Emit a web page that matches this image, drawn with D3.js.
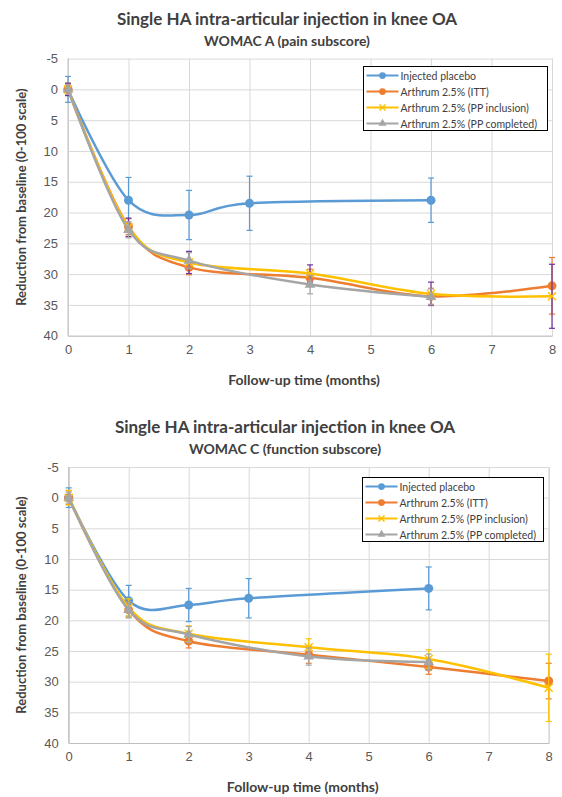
<!DOCTYPE html>
<html>
<head>
<meta charset="utf-8">
<script src="https://cdn.jsdelivr.net/npm/d3@7"></script>
<style>
  body { margin: 0; background: #fff; }
  svg { display: block; font-family: Lato, "Open Sans", sans-serif; }
  .tick text { fill: #595959; font-size: 13px; }
</style>
</head>
<body>
<svg width="562" height="797"></svg>
<script>
// ---- data ----
const placeboMonths = [0, 1, 2, 3, 6];
const arthrumMonths = [0, 1, 2, 4, 6, 8];
const completedMonths = [0, 1, 2, 4, 6];
const yTicks = [-5, 0, 5, 10, 15, 20, 25, 30, 35, 40];
const xTicks = [0, 1, 2, 3, 4, 5, 6, 7, 8];
const seriesNames = ["Injected placebo", "Arthrum 2.5% (ITT)", "Arthrum 2.5% (PP inclusion)", "Arthrum 2.5% (PP completed)"];

// WOMAC A (pain)
const painPlacebo = [0, 18, 20.4, 18.5, 18];
const painPlaceboErr = [2.1, 3.7, 4.0, 4.4, 3.6];
const painITT = [0, 22.3, 28.9, 30.6, 33.6, 31.9];
const painITTErr = [1.0, 1.3, 1.2, 1.4, 1.3, 4.6];
const painPPinc = [0, 22.4, 28.1, 29.9, 33.2, 33.6];
const painPPincErr = [1.0, 1.5, 1.8, 1.4, 1.9, 5.2];
const painPPcomp = [0, 22.8, 27.8, 31.7, 33.7];
const painPPcompErr = [0.8, 1.3, 1.3, 1.5, 1.3];

// WOMAC C (function)
const fnPlacebo = [0, 16.8, 17.5, 16.4, 14.8];
const fnPlaceboErr = [1.6, 2.5, 2.7, 3.2, 3.5];
const fnITT = [0, 18.3, 23.4, 25.6, 27.6, 29.9];
const fnITTErr = [1.1, 1.2, 1.1, 1.4, 1.2, 2.9];
const fnPPinc = [0, 17.9, 22.2, 24.4, 26.3, 31.0];
const fnPPincErr = [1.2, 1.4, 1.3, 1.4, 1.5, 5.5];
const fnPPcomp = [0, 18.3, 22.3, 25.9, 26.8];
const fnPPcompErr = [0.9, 1.3, 1.3, 1.4, 1.3];

const svg = d3.select("svg");

function zip(xs, ys, es) {
  return xs.map((x, i) => ({ x: x, y: ys[i], e: es[i] }));
}

function drawChart(cfg) {
  const g = svg.append("g");
  const x = d3.scaleLinear().domain([0, 8]).range([cfg.left, cfg.right]);
  const y = d3.scaleLinear().domain([-5, 40]).range([cfg.top, cfg.bottom]);

  // titles
  g.append("text").attr("x", cfg.cx).attr("y", cfg.top - 34)
    .attr("text-anchor", "middle").attr("font-size", 17).attr("font-weight", "bold")
    .attr("fill", "#404040").text("Single HA intra-articular injection in knee OA");
  g.append("text").attr("x", cfg.cx).attr("y", cfg.top - 13)
    .attr("text-anchor", "middle").attr("font-size", 14).attr("font-weight", "bold")
    .attr("fill", "#404040").text(cfg.subtitle);

  // grid + axes
  const yAxis = g.append("g").attr("transform", `translate(${cfg.left},0)`)
    .call(d3.axisLeft(y).tickValues(yTicks).tickSize(-(cfg.right - cfg.left)).tickPadding(10).tickFormat(d => String(d)));
  yAxis.select(".domain").remove();
  yAxis.selectAll(".tick line").attr("stroke", "#d9d9d9");

  const xAxis = g.append("g").attr("transform", `translate(0,${cfg.bottom})`)
    .call(d3.axisBottom(x).tickValues(xTicks).tickSize(-(cfg.bottom - cfg.top)).tickPadding(9).tickFormat(d => String(d)));
  xAxis.select(".domain").attr("stroke", "#bfbfbf");
  xAxis.selectAll(".tick line").attr("stroke", "#d9d9d9");
  g.append("line").attr("x1", cfg.left).attr("x2", cfg.left)
    .attr("y1", cfg.top).attr("y2", cfg.bottom).attr("stroke", "#bfbfbf");

  g.append("text").attr("x", (cfg.left + cfg.right) / 2 - 6).attr("y", cfg.bottom + 49)
    .attr("text-anchor", "middle").attr("font-size", 14).attr("font-weight", "bold")
    .attr("fill", "#404040").text("Follow-up time (months)");
  g.append("text")
    .attr("transform", `translate(26,${(cfg.top + cfg.bottom) / 2}) rotate(-90)`)
    .attr("text-anchor", "middle").attr("font-size", 13).attr("font-weight", "bold")
    .attr("fill", "#404040").text("Reduction from baseline (0-100 scale)");

  const line = d3.line().x(d => x(d.x)).y(d => y(d.y)).curve(d3.curveCardinal.tension(0));

  cfg.series.forEach(s => {
    const sg = g.append("g");
    // error bars
    s.data.forEach(d => {
      const y1 = y(d.y - d.e), y2 = y(d.y + d.e), cx = x(d.x);
      sg.append("line").attr("x1", cx).attr("x2", cx).attr("y1", y1).attr("y2", y2)
        .attr("stroke", s.errColor).attr("stroke-width", 1.2);
      [y1, y2].forEach(yy => sg.append("line").attr("x1", cx - 3).attr("x2", cx + 3)
        .attr("y1", yy).attr("y2", yy).attr("stroke", s.errColor).attr("stroke-width", 1.2));
    });
    sg.append("path").datum(s.data).attr("d", line).attr("fill", "none")
      .attr("stroke", s.color).attr("stroke-width", 2.5);
    s.data.forEach(d => drawMarker(sg, s, x(d.x), y(d.y), 1));
  });

  // legend
  const lg = g.append("g").attr("transform", `translate(${cfg.legX},${cfg.legY})`);
  lg.append("rect").attr("width", cfg.legW).attr("height", 64)
    .attr("fill", "#fff").attr("stroke", "#000").attr("stroke-width", 1);
  cfg.series.forEach((s, i) => {
    const ly = 9 + i * 16;
    lg.append("line").attr("x1", 3).attr("x2", 35).attr("y1", ly).attr("y2", ly)
      .attr("stroke", s.color).attr("stroke-width", 2);
    drawMarker(lg, s, 19, ly, 0.75);
    lg.append("text").attr("x", 37).attr("y", ly + 4).attr("font-size", 10.5)
      .attr("fill", "#404040").text(seriesNames[i]);
  });
}

function drawMarker(sel, s, cx, cy, k) {
  if (s.marker === "circle") {
    sel.append("circle").attr("cx", cx).attr("cy", cy).attr("r", 4.5 * k).attr("fill", s.color);
  } else if (s.marker === "x") {
    const r = 4 * k;
    sel.append("path").attr("d", `M${cx - r},${cy - r}L${cx + r},${cy + r}M${cx - r},${cy + r}L${cx + r},${cy - r}`)
      .attr("stroke", s.color).attr("stroke-width", 1.5);
  } else {
    sel.append("path").attr("transform", `translate(${cx},${cy})`)
      .attr("d", d3.symbol().type(d3.symbolTriangle).size(50 * k * k)).attr("fill", s.color);
  }
}

drawChart({
  subtitle: "WOMAC A (pain subscore)",
  left: 68, right: 552, top: 58.6, bottom: 335.7, cx: 287,
  legX: 363.5, legY: 66.5, legW: 184,
  series: [
    { data: zip(placeboMonths, painPlacebo, painPlaceboErr), color: "#5b9bd5", errColor: "#5b9bd5", marker: "circle" },
    { data: zip(arthrumMonths, painITT, painITTErr), color: "#ed7d31", errColor: "#ed7d31", marker: "circle" },
    { data: zip(arthrumMonths, painPPinc, painPPincErr), color: "#ffc000", errColor: "#7030a0", marker: "x" },
    { data: zip(completedMonths, painPPcomp, painPPcompErr), color: "#a5a5a5", errColor: "#a5a5a5", marker: "triangle" }
  ]
});

drawChart({
  subtitle: "WOMAC C (function subscore)",
  left: 68.7, right: 548.7, top: 467, bottom: 743, cx: 285,
  legX: 362.5, legY: 477.5, legW: 181,
  series: [
    { data: zip(placeboMonths, fnPlacebo, fnPlaceboErr), color: "#5b9bd5", errColor: "#5b9bd5", marker: "circle" },
    { data: zip(arthrumMonths, fnITT, fnITTErr), color: "#ed7d31", errColor: "#ed7d31", marker: "circle" },
    { data: zip(arthrumMonths, fnPPinc, fnPPincErr), color: "#ffc000", errColor: "#ffc000", marker: "x" },
    { data: zip(completedMonths, fnPPcomp, fnPPcompErr), color: "#a5a5a5", errColor: "#a5a5a5", marker: "triangle" }
  ]
});
</script>
</body>
</html>
